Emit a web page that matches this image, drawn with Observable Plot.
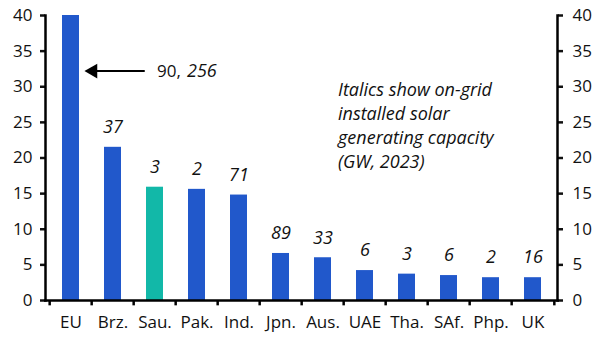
<!DOCTYPE html>
<html>
<head>
<meta charset="utf-8">
<script src="https://cdn.jsdelivr.net/npm/d3@7"></script>
<script src="https://cdn.jsdelivr.net/npm/@observablehq/plot@0.6"></script>
<style>
  html, body { margin: 0; padding: 0; background: #fff; }
</style>
</head>
<body>
<div id="chart"></div>
<script>
const categories = ["EU", "Brz.", "Sau.", "Pak.", "Ind.", "Jpn.", "Aus.", "UAE", "Tha.", "SAf.", "Php.", "UK"];
const values = [90, 21.5, 15.9, 15.6, 14.8, 6.6, 6.0, 4.2, 3.7, 3.5, 3.2, 3.2];
const capacityLabels = ["256", "37", "3", "2", "71", "89", "33", "6", "3", "6", "2", "16"];
const highlight = "Sau.";
const yTicks = [0, 5, 10, 15, 20, 25, 30, 35, 40];
const annotationValue = "90,";
const annotationCapacity = "256";
const noteText = "Italics show on-grid\ninstalled solar\ngenerating capacity\n(GW, 2023)";

const data = categories.map((c, i) => ({cat: c, value: values[i], label: capacityLabels[i]}));
const blue = "#2158cb";
const teal = "#12b8a8";
const halfStep = 512 / categories.length / 2;

const chart = Plot.plot({
  width: 604,
  height: 354,
  marginLeft: 45,
  marginRight: 47,
  marginTop: 15,
  marginBottom: 54,
  style: {fontFamily: "'Open Sans', sans-serif", fontSize: "17px", color: "#111", background: "#fff"},
  x: {domain: categories, paddingInner: 0.6, paddingOuter: 0.3, label: null},
  y: {domain: [0, 40], label: null},
  marks: [
    Plot.barY(data, {x: "cat", y: "value", fill: d => d.cat === highlight ? teal : blue, clip: true}),
    Plot.text(data.filter(d => d.value <= 40), {x: "cat", y: "value", text: "label", dy: -20, fontStyle: "italic", fontSize: 18}),
    // bottom ticks at band boundaries
    Plot.ruleX(categories, {x: d => d, dx: -halfStep, y1: 0, y2: -0.75, strokeWidth: 2.5, stroke: "#000"}),
    Plot.ruleX([categories[categories.length - 1]], {x: d => d, dx: halfStep, y1: 0, y2: -0.75, strokeWidth: 2.5, stroke: "#000"}),
    Plot.axisY({anchor: "left", ticks: yTicks, tickSize: 5, tickPadding: 8, strokeWidth: 2.5, fontSize: 17, label: null}),
    Plot.axisY({anchor: "right", ticks: yTicks, tickSize: 5, tickPadding: 10, strokeWidth: 2.5, fontSize: 17, label: null}),
    Plot.axisX({tickSize: 0, tickPadding: 15, fontSize: 17, label: null}),
    Plot.frame({anchor: "left", strokeWidth: 2.5, stroke: "#000"}),
    Plot.frame({anchor: "right", strokeWidth: 2.5, stroke: "#000"}),
    Plot.frame({anchor: "bottom", strokeWidth: 2.5, stroke: "#000"}),
    // annotation arrow for EU
    Plot.arrow([{x1: "Sau.", x2: "EU", y: 32.2}], {x1: "x1", x2: "x2", y1: "y", y2: "y", insetStart: 11, insetEnd: 24, headLength: 0, strokeWidth: 2, stroke: "#000"}),
    Plot.dot([{x: "EU", y: 32.2}], {x: "x", y: "y", dx: 22, symbol: "triangle", r: 5.5, rotate: -90, fill: "#000", stroke: "none"}),
    Plot.text([annotationValue], {x: () => "Sau.", y: () => 32.2, text: d => d, dx: 2, textAnchor: "start", fontSize: 17}),
    Plot.text([annotationCapacity], {x: () => "Sau.", y: () => 32.2, text: d => d, dx: 32, textAnchor: "start", fontStyle: "italic", fontSize: 18}),
    // note
    Plot.text([noteText], {x: () => "Aus.", y: () => 31.1, text: d => d, dx: 15, textAnchor: "start", lineAnchor: "top", lineHeight: 1.33, fontStyle: "italic", fontSize: 18})
  ]
});
document.getElementById("chart").appendChild(chart);
</script>
</body>
</html>
